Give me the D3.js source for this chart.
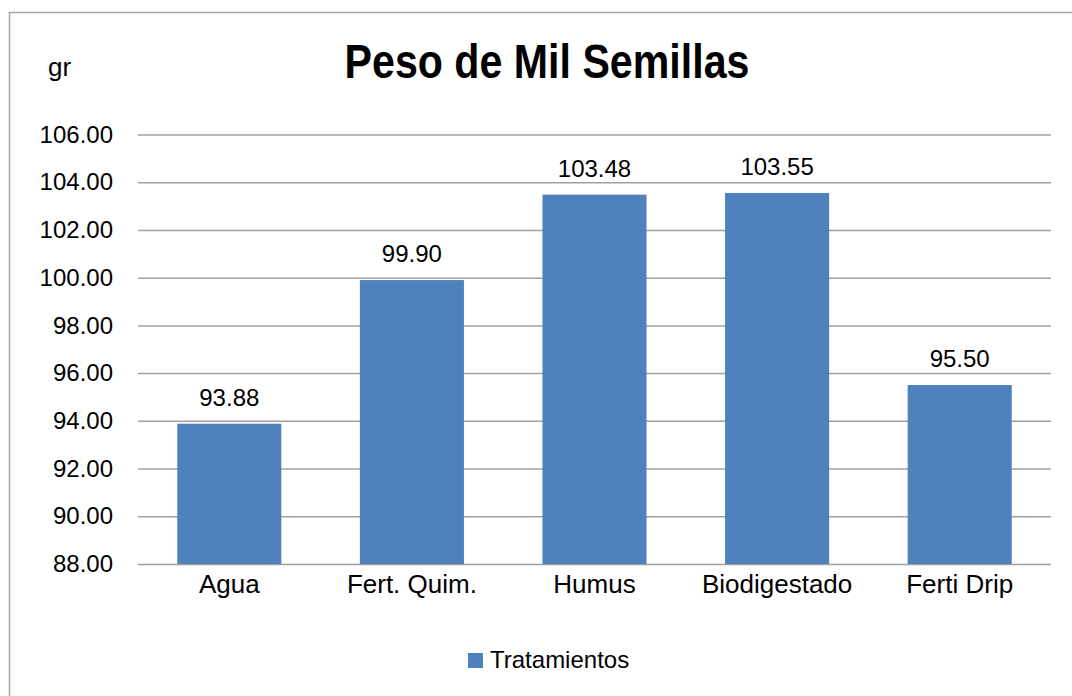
<!DOCTYPE html>
<html>
<head>
<meta charset="utf-8">
<script src="https://cdn.jsdelivr.net/npm/d3@7"></script>
<style>
  body { margin:0; background:#fff; }
  text { font-family: "Liberation Sans", Arial, sans-serif; fill:#000; }
</style>
</head>
<body>
<div id="chart-area"></div>
<script>
//data
var categories = ["Agua", "Fert. Quim.", "Humus", "Biodigestado", "Ferti Drip"];
var values = [93.88, 99.90, 103.48, 103.55, 95.50];
var yTicks = [88, 90, 92, 94, 96, 98, 100, 102, 104, 106];
var seriesName = "Tratamientos";

//frame
var W = 1072, H = 696;
var margin = {top:134.5, right:21, bottom:132, left:138},
    width = W - margin.left - margin.right,
    height = H - margin.top - margin.bottom;

var svg = d3.select("#chart-area").append("svg")
    .attr("width", W).attr("height", H);

//outer border (runs off right/bottom edge)
svg.append("rect")
    .attr("x", 9.5).attr("y", 12.5)
    .attr("width", W + 20).attr("height", H + 20)
    .attr("fill", "none").attr("stroke", "#a6a6a6").attr("stroke-width", 1.5);

var g = svg.append("g").attr("transform", "translate(" + margin.left + "," + margin.top + ")");

//scales
var x = d3.scaleBand().domain(categories).range([0, width]).paddingInner(0.43).paddingOuter(0.215);
var y = d3.scaleLinear().domain([88, 106]).range([height, 0]);

//gridlines + y labels
var yAxis = d3.axisLeft(y).tickValues(yTicks).tickSize(-width).tickPadding(25)
    .tickFormat(d3.format(".2f"));
g.append("g").attr("class", "y axis").call(yAxis)
    .call(s => s.select(".domain").remove())
    .call(s => s.selectAll("line").attr("stroke", "#a0a0a0").attr("stroke-width", 1.5))
    .call(s => s.selectAll("text").attr("font-size", 24).attr("fill", "#000")
        .style("font-family", '"Liberation Sans", Arial, sans-serif'));

//bars
g.selectAll(".bar").data(values).enter().append("rect")
    .attr("class", "bar")
    .attr("x", (d,i) => x(categories[i]))
    .attr("y", d => y(d))
    .attr("width", x.bandwidth())
    .attr("height", d => height - y(d))
    .attr("fill", "#4f81bd");

//value labels
g.selectAll(".vlabel").data(values).enter().append("text")
    .attr("class", "vlabel")
    .attr("x", (d,i) => x(categories[i]) + x.bandwidth()/2)
    .attr("y", d => y(d) - 18)
    .attr("text-anchor", "middle")
    .attr("font-size", 24)
    .text(d => d3.format(".2f")(d));

//x category labels
g.selectAll(".xlabel").data(categories).enter().append("text")
    .attr("class", "xlabel")
    .attr("x", d => x(d) + x.bandwidth()/2)
    .attr("y", height + 29)
    .attr("text-anchor", "middle")
    .attr("font-size", 26)
    .text(d => d);

//title (narrow look: squeeze horizontally)
svg.append("text")
    .attr("transform", "translate(547,78) scale(0.84,1)")
    .attr("text-anchor", "middle")
    .attr("font-size", 49).attr("font-weight", "bold")
    .text("Peso de Mil Semillas");

//unit
svg.append("text")
    .attr("x", 48).attr("y", 76)
    .attr("font-size", 26)
    .text("gr");

//legend
svg.append("rect").attr("x", 468).attr("y", 653).attr("width", 15).attr("height", 15).attr("fill", "#4f81bd");
svg.append("text").attr("x", 490).attr("y", 668).attr("font-size", 24).text(seriesName);
</script>
</body>
</html>
